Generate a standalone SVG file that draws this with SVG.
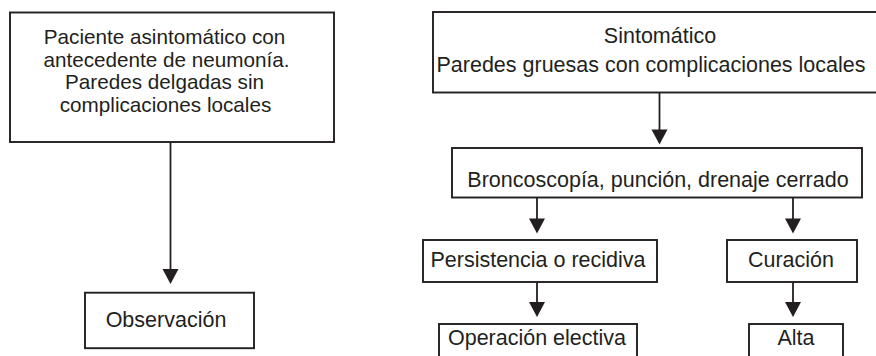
<svg xmlns="http://www.w3.org/2000/svg" width="876" height="356" viewBox="0 0 876 356">
  <style>
    .box { fill: #ffffff; stroke: #231f20; stroke-width: 1.9; }
    .lbl { font-family: "Liberation Sans", Arial, Helvetica, sans-serif; font-size: 21.5px; fill: #231f20; text-anchor: middle; }
    .sm { font-size: 20.7px; }
    .conn { fill: none; stroke: #231f20; stroke-width: 1.8; }
  </style>
  <defs>
    <marker id="arr" markerUnits="userSpaceOnUse" markerWidth="17" markerHeight="17" refX="0.5" refY="8" orient="auto" overflow="visible">
      <path d="M0,0 L15,8 L0,16 Z" fill="#231f20"/>
    </marker>
  </defs>
  <rect width="876" height="356" fill="#ffffff"/>

  <g id="n-asintomatico">
    <rect class="box" x="10" y="12.5" width="324" height="129.5"/>
    <text class="lbl sm" x="164.5" y="44.3">Paciente asintomático con</text>
    <text class="lbl sm" x="166.5" y="66.8">antecedente de neumonía.</text>
    <text class="lbl sm" x="164.5" y="89.2">Paredes delgadas sin</text>
    <text class="lbl sm" x="165.5" y="111.6">complicaciones locales</text>
  </g>

  <g id="n-observacion">
    <rect class="box" x="85" y="292.7" width="169" height="55.5"/>
    <text class="lbl" x="166" y="326.7">Observación</text>
  </g>

  <g id="n-sintomatico">
    <rect class="box" x="433" y="12" width="446" height="80.5"/>
    <text class="lbl" x="660" y="42.7">Sintomático</text>
    <text class="lbl" x="651" y="71.7">Paredes gruesas con complicaciones locales</text>
  </g>

  <g id="n-broncoscopia">
    <rect class="box" x="452" y="148" width="410" height="49.5"/>
    <text class="lbl" x="658" y="186.7">Broncoscopía, punción, drenaje cerrado</text>
  </g>

  <g id="n-persistencia">
    <rect class="box" x="423" y="240" width="234" height="42"/>
    <text class="lbl" x="538" y="267.3">Persistencia o recidiva</text>
  </g>

  <g id="n-curacion">
    <rect class="box" x="727" y="240" width="130" height="42"/>
    <text class="lbl" x="791" y="267.3">Curación</text>
  </g>

  <g id="n-operacion">
    <rect class="box" x="439" y="324" width="198" height="40"/>
    <text class="lbl" x="537" y="345">Operación electiva</text>
  </g>

  <g id="n-alta">
    <rect class="box" x="749" y="324" width="94" height="40"/>
    <text class="lbl" x="796" y="345">Alta</text>
  </g>

  <g id="connectors">
    <path class="conn" d="M170.5,142 L170.5,269.5" marker-end="url(#arr)"/>
    <path class="conn" d="M659.5,92.5 L659.5,130" marker-end="url(#arr)"/>
    <path class="conn" d="M537,197.5 L537,219" marker-end="url(#arr)"/>
    <path class="conn" d="M793,197.5 L793,219" marker-end="url(#arr)"/>
    <path class="conn" d="M537,282 L537,302.5" marker-end="url(#arr)"/>
    <path class="conn" d="M793,282 L793,302.5" marker-end="url(#arr)"/>
  </g>
</svg>
